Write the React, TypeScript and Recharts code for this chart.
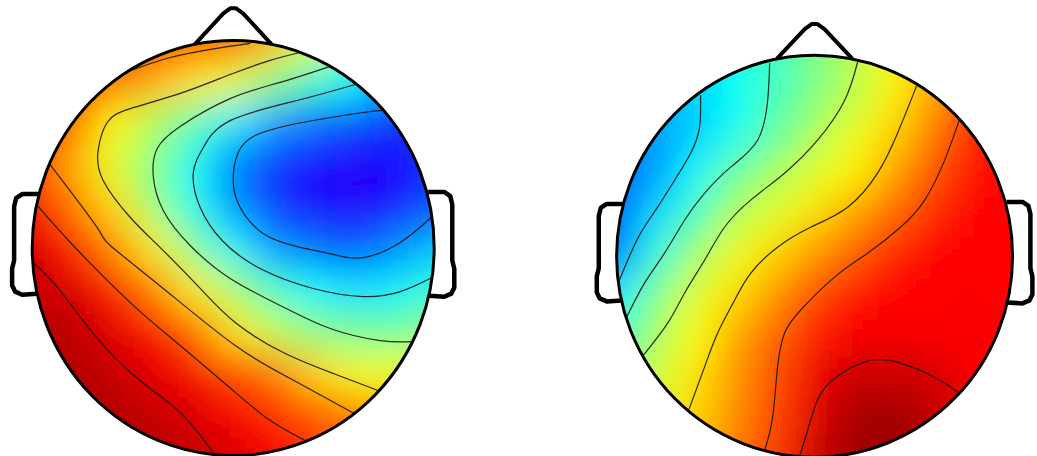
import React from "react";
import { ComposedChart, Scatter, Line, XAxis, YAxis } from "recharts";

// head units: 1 = scalp radius, v points up (nose)
const gridU = [-1.2, -1.0, -0.8, -0.6, -0.4, -0.2, 0, 0.2, 0.4, 0.6, 0.8, 1.0, 1.2];
const gridV = [1.2, 1.0, 0.8, 0.6, 0.4, 0.2, 0, -0.2, -0.4, -0.6, -0.8, -1.0, -1.2];

// colour-scale value (0 = blue end, 1 = dark red end), rows follow gridV
const leftMap = [
  [0.88, 0.87, 0.86, 0.84, 0.82, 0.8, 0.79, 0.73, 0.62, 0.51, 0.41, 0.35, 0.33],
  [0.89, 0.88, 0.86, 0.84, 0.82, 0.8, 0.79, 0.69, 0.6, 0.45, 0.35, 0.31, 0.31],
  [0.89, 0.88, 0.81, 0.77, 0.71, 0.65, 0.6, 0.51, 0.43, 0.37, 0.27, 0.22, 0.22],
  [0.89, 0.84, 0.79, 0.63, 0.55, 0.46, 0.36, 0.28, 0.23, 0.19, 0.17, 0.16, 0.16],
  [0.9, 0.81, 0.71, 0.6, 0.5, 0.38, 0.25, 0.17, 0.13, 0.12, 0.13, 0.17, 0.18],
  [0.91, 0.87, 0.77, 0.66, 0.53, 0.39, 0.27, 0.18, 0.13, 0.12, 0.13, 0.2, 0.24],
  [0.93, 0.91, 0.86, 0.75, 0.64, 0.5, 0.37, 0.27, 0.23, 0.2, 0.25, 0.31, 0.33],
  [0.95, 0.93, 0.91, 0.86, 0.76, 0.64, 0.54, 0.43, 0.37, 0.34, 0.36, 0.41, 0.45],
  [0.96, 0.95, 0.94, 0.9, 0.87, 0.79, 0.65, 0.57, 0.5, 0.48, 0.47, 0.51, 0.53],
  [0.97, 0.96, 0.95, 0.93, 0.9, 0.88, 0.81, 0.76, 0.67, 0.61, 0.61, 0.64, 0.66],
  [0.97, 0.97, 0.96, 0.95, 0.93, 0.91, 0.88, 0.84, 0.79, 0.75, 0.71, 0.71, 0.71],
  [0.97, 0.97, 0.97, 0.96, 0.95, 0.93, 0.91, 0.88, 0.84, 0.8, 0.77, 0.75, 0.75],
  [0.97, 0.97, 0.97, 0.97, 0.96, 0.94, 0.92, 0.89, 0.86, 0.82, 0.79, 0.77, 0.77],
];

const rightMap = [
  [0.28, 0.29, 0.31, 0.34, 0.39, 0.43, 0.49, 0.55, 0.62, 0.68, 0.76, 0.82, 0.85],
  [0.28, 0.29, 0.31, 0.34, 0.39, 0.43, 0.49, 0.55, 0.62, 0.68, 0.76, 0.82, 0.85],
  [0.27, 0.28, 0.3, 0.33, 0.38, 0.44, 0.5, 0.56, 0.64, 0.72, 0.82, 0.85, 0.86],
  [0.25, 0.26, 0.27, 0.33, 0.39, 0.47, 0.54, 0.61, 0.67, 0.76, 0.85, 0.86, 0.87],
  [0.22, 0.22, 0.28, 0.38, 0.48, 0.54, 0.6, 0.64, 0.72, 0.8, 0.86, 0.87, 0.87],
  [0.2, 0.22, 0.34, 0.44, 0.55, 0.6, 0.66, 0.72, 0.78, 0.84, 0.87, 0.87, 0.87],
  [0.2, 0.24, 0.41, 0.53, 0.61, 0.67, 0.73, 0.79, 0.85, 0.87, 0.87, 0.87, 0.87],
  [0.25, 0.37, 0.49, 0.6, 0.66, 0.73, 0.81, 0.86, 0.87, 0.87, 0.88, 0.87, 0.87],
  [0.33, 0.43, 0.54, 0.62, 0.71, 0.78, 0.85, 0.88, 0.88, 0.88, 0.88, 0.87, 0.87],
  [0.41, 0.48, 0.58, 0.65, 0.73, 0.8, 0.89, 0.93, 0.93, 0.92, 0.88, 0.87, 0.87],
  [0.48, 0.52, 0.6, 0.67, 0.74, 0.81, 0.9, 0.96, 0.97, 0.94, 0.89, 0.87, 0.87],
  [0.52, 0.57, 0.62, 0.69, 0.76, 0.82, 0.93, 0.97, 0.98, 0.95, 0.9, 0.88, 0.87],
  [0.52, 0.57, 0.62, 0.69, 0.76, 0.82, 0.92, 0.96, 0.97, 0.94, 0.9, 0.88, 0.87],
];

// contour lines, [u, v]
const leftC1 = [[0.746, 0.663], [0.647, 0.653], [0.318, 0.6], [0.109, 0.542], [0.025, 0.46], [0, 0.325], [0.035, 0.195], [0.149, 0.07], [0.318, 0.007], [0.498, -0.031], [0.647, -0.046], [0.831, 0.027], [0.99, 0.152]];
const leftC2 = [[0.607, 0.788], [0.318, 0.711], [-0.015, 0.614], [-0.149, 0.484], [-0.199, 0.359], [-0.164, 0.195], [-0.055, 0.036], [0.134, -0.099], [0.398, -0.195], [0.647, -0.234], [0.831, -0.21], [0.99, -0.142]];
const leftC3 = [[0.483, 0.875], [0.234, 0.798], [-0.015, 0.72], [-0.264, 0.586], [-0.378, 0.48], [-0.398, 0.349], [-0.348, 0.181], [-0.214, 0.012], [-0.015, -0.147], [0.234, -0.277], [0.483, -0.388], [0.731, -0.446], [0.891, -0.451]];
const leftC4 = [[0.333, 0.942], [0.184, 0.904], [-0.015, 0.836], [-0.264, 0.745], [-0.512, 0.672], [-0.627, 0.605], [-0.672, 0.47], [-0.647, 0.325], [-0.512, 0.147], [-0.363, 0.002], [-0.164, -0.195], [0.01, -0.359], [0.249, -0.504], [0.498, -0.605], [0.721, -0.687]];
const leftTop = [[-0.522, 0.851], [-0.313, 0.918], [-0.09, 0.961], [0.085, 0.986]];
const leftC5 = [[-0.915, 0.407], [-0.677, 0.099], [-0.612, 0.012], [-0.348, -0.195], [0.01, -0.47], [0.284, -0.629], [0.602, -0.798]];
const leftC6 = [[-0.975, 0.205], [-0.796, 0.012], [-0.512, -0.263], [-0.264, -0.47], [0.01, -0.696], [0.184, -0.831], [0.358, -0.928]];
const leftC7 = [[-0.995, -0.07], [-0.861, -0.205], [-0.677, -0.436], [-0.463, -0.639], [-0.264, -0.793], [-0.095, -0.99]];

const rightC1 = [[-0.576, 0.801], [-0.581, 0.642], [-0.626, 0.512], [-0.707, 0.378], [-0.793, 0.244], [-0.879, 0.114], [-0.944, -0.02], [-0.99, -0.129]];
const rightC2 = [[-0.227, 0.96], [-0.237, 0.776], [-0.288, 0.577], [-0.424, 0.443], [-0.556, 0.313], [-0.657, 0.179], [-0.758, 0.015], [-0.859, -0.134], [-0.949, -0.303]];
const rightC3 = [[0.217, 0.965], [0.152, 0.776], [0.015, 0.577], [-0.152, 0.413], [-0.323, 0.279], [-0.455, 0.144], [-0.556, -0.02], [-0.657, -0.184], [-0.742, -0.333], [-0.869, -0.498]];
const rightC4 = [[0.515, 0.846], [0.419, 0.612], [0.318, 0.413], [0.167, 0.244], [-0.02, 0.144], [-0.187, 0.045], [-0.323, -0.085], [-0.404, -0.219], [-0.49, -0.383], [-0.556, -0.552], [-0.636, -0.766]];
const rightC5 = [[0.732, 0.682], [0.657, 0.478], [0.556, 0.279], [0.434, 0.144], [0.268, 0.015], [0.101, -0.104], [-0.071, -0.269], [-0.152, -0.383], [-0.187, -0.552], [-0.212, -0.801], [-0.253, -0.97]];
const rightC6 = [[-0.076, -0.995], [-0.035, -0.866], [0.015, -0.716], [0.101, -0.607], [0.268, -0.522], [0.434, -0.532], [0.606, -0.602], [0.732, -0.682]];

const leftContours = [leftC1, leftC2, leftC3, leftC4, leftTop, leftC5, leftC6, leftC7];
const rightContours = [rightC1, rightC2, rightC3, rightC4, rightC5, rightC6];

// head outline pieces
const nose = [[-0.19, 0.983], [-0.05, 1.13], [-0.015, 1.155], [0.015, 1.155], [0.05, 1.13], [0.19, 0.983]];
const earLeft = [[-0.97, 0.26], [-1.05, 0.26], [-1.08, 0.24], [-1.09, 0.2], [-1.09, -0.06], [-1.1, -0.1], [-1.1, -0.18], [-1.085, -0.21], [-1.05, -0.225], [-0.975, -0.22]];
const earRight = [[0.97, 0.27], [1.05, 0.27], [1.08, 0.25], [1.09, 0.21], [1.09, -0.06], [1.1, -0.1], [1.1, -0.19], [1.085, -0.22], [1.05, -0.235], [0.975, -0.23]];

function jet(t: number) {
  const c = (x: number) => Math.round(255 * Math.max(0, Math.min(1, x)));
  const r = Math.max(1.5 - Math.abs(4 * t - 3), (0.2 - t) * 1.6);
  return `rgb(${c(r)},${c(1.5 - Math.abs(4 * t - 2))},${c(1.5 - Math.abs(4 * t - 1))})`;
}

const toPts = (arr: number[][]) => arr.map(([u, v]) => ({ u, v }));
const toCells = (map: number[][]) =>
  gridV.flatMap((v, i) => gridU.map((u, j) => ({ u, v, val: map[i][j] })));

type HeadProps = {
  id: string;
  map: number[][];
  contours: number[][][];
  width: number;
  height: number;
  left: number;
  top: number;
};

function Head({ id, map, contours, width, height, left, top }: HeadProps) {
  const rx = width / 2.4;
  const ry = height / 2.4;
  const cw = rx * 0.2;
  const ch = ry * 0.2;
  const cells = toCells(map);
  const outlineProps = { stroke: "#000", strokeWidth: 4.5, dot: false, strokeLinejoin: "round" as const, isAnimationActive: false, type: "linear" as const, dataKey: "v" };

  return (
    <div style={{ position: "absolute", left, top }}>
      <ComposedChart width={width} height={height} margin={{ top: 0, right: 0, bottom: 0, left: 0 }}>
        <defs>
          <filter id={`blur-${id}`} x="-10%" y="-10%" width="120%" height="120%">
            <feGaussianBlur stdDeviation={cw * 0.5} />
          </filter>
        </defs>
        <XAxis type="number" dataKey="u" domain={[-1.2, 1.2]} hide allowDataOverflow />
        <YAxis type="number" dataKey="v" domain={[-1.2, 1.2]} hide allowDataOverflow />
        <Scatter
          data={cells}
          className={`heat-${id}`}
          zIndex={100}
          isAnimationActive={false}
          shape={(p: any) => (
            <rect x={p.cx - cw / 2 - 0.5} y={p.cy - ch / 2 - 0.5} width={cw + 1} height={ch + 1} fill={jet(p.payload.val)} />
          )}
        />
        {contours.map((c, k) => (
          <Line
            key={k}
            data={toPts(c)}
            dataKey="v"
            type="natural"
            className={`cont-${id}`}
            zIndex={200}
            stroke="#151515"
            strokeOpacity={0.9}
            strokeWidth={1.2}
            dot={false}
            activeDot={false}
            isAnimationActive={false}
          />
        ))}
        <Scatter
          data={[{ u: 0, v: 0 }]}
          zIndex={300}
          isAnimationActive={false}
          shape={(p: any) => (
            <g>
              <clipPath id={`clip-${id}`}>
                <ellipse cx={p.cx} cy={p.cy} rx={rx} ry={ry} />
              </clipPath>
              <ellipse cx={p.cx} cy={p.cy} rx={rx} ry={ry} fill="none" stroke="#000" strokeWidth={3} />
            </g>
          )}
        />
        <Line data={toPts(nose)} zIndex={300} {...outlineProps} strokeWidth={4} />
        <Line data={toPts(earLeft)} zIndex={300} {...outlineProps} />
        <Line data={toPts(earRight)} zIndex={300} {...outlineProps} />
      </ComposedChart>
    </div>
  );
}

const css = `
body { margin: 0; }
.heat-left { filter: url(#blur-left); clip-path: url(#clip-left); }
.heat-right { filter: url(#blur-right); clip-path: url(#clip-right); }
.cont-left { clip-path: url(#clip-left); }
.cont-right { clip-path: url(#clip-right); }
`;

export default function App() {
  return (
    <div style={{ position: "relative", width: 1037, height: 456, overflow: "hidden", background: "#fff" }}>
      <style>{css}</style>
      <Head id="left" map={leftMap} contours={leftContours} width={482.4} height={498} left={-8.2} top={-1.5} />
      <Head id="right" map={rightMap} contours={rightContours} width={475.2} height={482.4} left={577.4} top={14.8} />
    </div>
  );
}
